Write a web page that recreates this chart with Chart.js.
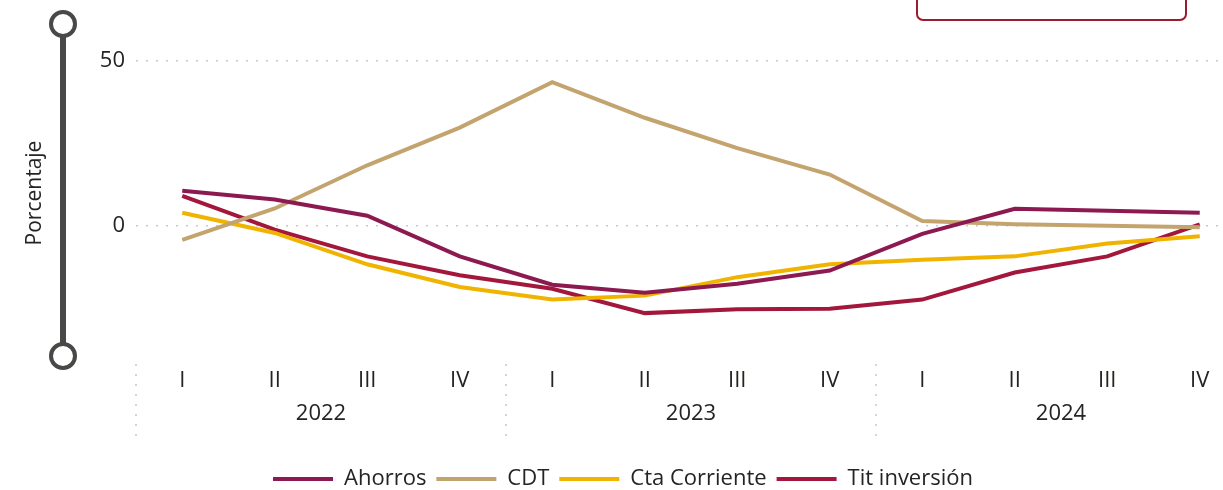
<!DOCTYPE html>
<html>
<head>
<meta charset="utf-8">
<script src="https://cdn.jsdelivr.net/npm/chart.js@4"></script>
<style>
  html, body { margin: 0; padding: 0; background: #fff; overflow: hidden; }
  #wrap { width: 1223px; height: 490px; overflow: hidden; position: relative; }
  canvas { display: block; }
</style>
</head>
<body>
<div id="wrap">
  <canvas id="chart" width="1246" height="500"></canvas>
</div>
<script>
// datos
const years = ["2022", "2023", "2024"];
const quarters = ["I", "II", "III", "IV"];
const ahorros = [10.7, 8.0, 3.1, -9.2, -17.8, -20.2, -17.5, -13.5, -2.4, 5.2, 4.6, 4.0];
const cdt = [-4.2, 5.3, 18.4, 29.8, 43.6, 32.8, 23.6, 15.6, 1.5, 0.5, 0.1, -0.4];
const ctaCorriente = [4.0, -2.1, -11.6, -18.5, -22.3, -21.1, -15.5, -11.6, -10.2, -9.2, -5.3, -3.1];
const titInversion = [9.1, -1.1, -9.2, -14.9, -19.0, -26.4, -25.2, -25.1, -22.3, -14.1, -9.2, 0.5];
const yTicks = [0, 50];

const labels = [];
years.forEach(y => quarters.forEach(q => labels.push(q)));

const FONT = "'Open Sans', 'Noto Sans', sans-serif";
const TEXT = "#252423";

function serie(label, data, color) {
    return {
        label: label,
        data: data,
        borderColor: color,
        backgroundColor: color,
        borderWidth: 4,
        pointRadius: 0,
        tension: 0
    };
}

// decoraciones: barra deslizante, separadores de año, recuadro
const decor = {
    id: "decor",
    afterDraw(chart) {
        const ctx = chart.ctx;
        const x = chart.scales.x;
        const half = (x.getPixelForValue(1) - x.getPixelForValue(0)) / 2;

        // separadores punteados entre años
        ctx.save();
        ctx.strokeStyle = "#c8c8c8";
        ctx.lineWidth = 1.5;
        ctx.setLineDash([2, 8]);
        for (let i = 0; i < years.length; i++) {
            const px = Math.round(x.getPixelForValue(i * quarters.length) - half);
            ctx.beginPath();
            ctx.moveTo(px, x.top + 6);
            ctx.lineTo(px, x.top + 82);
            ctx.stroke();
        }
        ctx.restore();

        // barra deslizante a la izquierda
        ctx.save();
        ctx.strokeStyle = "#4a4846";
        ctx.lineWidth = 6;
        ctx.beginPath();
        ctx.moveTo(63, 24);
        ctx.lineTo(63, 356);
        ctx.stroke();
        ctx.lineWidth = 4;
        ctx.fillStyle = "#fff";
        [24, 356].forEach(cy => {
            ctx.beginPath();
            ctx.arc(63, cy, 12, 0, Math.PI * 2);
            ctx.fill();
            ctx.stroke();
        });
        ctx.restore();

        // recuadro superior derecho
        ctx.save();
        ctx.strokeStyle = "#9b1b30";
        ctx.lineWidth = 2;
        ctx.beginPath();
        ctx.roundRect(917, -20, 269, 40, 6);
        ctx.stroke();
        ctx.restore();
    }
};

new Chart(document.getElementById("chart"), {
    type: "line",
    data: {
        labels: labels,
        datasets: [
            serie("Ahorros", ahorros, "#8c1a50"),
            serie("CDT", cdt, "#c4a46e"),
            serie("Cta Corriente", ctaCorriente, "#f0b400"),
            serie("Tit inversión", titInversion, "#a3173c")
        ]
    },
    options: {
        responsive: false,
        animation: false,
        layout: { padding: { top: 28, left: 0, right: 0, bottom: 0 } },
        plugins: {
            legend: {
                position: "bottom",
                labels: {
                    boxWidth: 60,
                    boxHeight: 4,
                    padding: 10,
                    color: TEXT,
                    font: { family: FONT, size: 22 },
                    generateLabels: (chart) =>
                        Chart.defaults.plugins.legend.labels.generateLabels(chart)
                            .map(l => ({ ...l, lineWidth: 0 }))
                }
            },
            tooltip: { enabled: false }
        },
        scales: {
            x: {
                offset: true,
                grid: { display: false },
                border: { display: false },
                ticks: { color: TEXT, font: { family: FONT, size: 22 }, padding: 2, maxRotation: 0 },
                afterFit: s => { s.height = 33; }
            },
            x2: {
                type: "category",
                labels: years,
                offset: true,
                position: "bottom",
                grid: { display: false },
                border: { display: false },
                ticks: { color: TEXT, font: { family: FONT, size: 22 }, padding: 2, maxRotation: 0 },
                afterFit: s => { s.height = 67; }
            },
            y: {
                min: -40,
                max: 60,
                afterBuildTicks: s => { s.ticks = yTicks.map(v => ({ value: v })); },
                grid: { color: "#c8c8c8", lineWidth: 1.5, drawTicks: false },
                border: { display: false, dash: [2, 8] },
                ticks: { color: TEXT, font: { family: FONT, size: 22 }, padding: 11 },
                title: {
                    display: true,
                    text: "Porcentaje",
                    color: TEXT,
                    font: { family: FONT, size: 21 },
                    padding: { top: 22, bottom: 0 }
                },
                afterFit: s => { s.width = 136; }
            }
        }
    },
    plugins: [decor]
});
</script>
</body>
</html>
